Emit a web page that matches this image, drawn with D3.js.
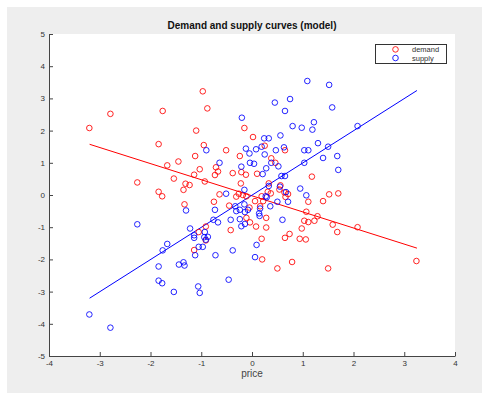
<!DOCTYPE html>
<html>
<head>
<meta charset="utf-8">
<script src="https://cdn.jsdelivr.net/npm/d3@7"></script>
<style>
  html, body { margin: 0; padding: 0; background: #ffffff; }
  svg { display: block; }
  text { font-family: "Liberation Sans", Arial, Helvetica, sans-serif; }
</style>
</head>
<body>
<svg id="chart" width="482" height="393"></svg>
<script>
// Demand observations: price vs quantity
const demandPrice = [-3.205,-2.79,-1.76,-0.97,-0.88,-1.10,-0.15,0.02,-1.84,-0.95,0.25,-0.51,0.65,-1.12,-0.24,-1.45,-1.67,0.38,0.46,-0.71,-1.03,-0.67,-0.38,-1.14,-0.73,-0.21,-0.12,0.10,-1.54,1.18,-2.26,-0.93,-0.22,-1.31,-1.23,0.33,0.56,-1.35,-1.84,-1.77,-0.64,-0.26,-0.18,-0.31,-0.11,0.19,0.31,0.37,0.54,0.64,0.71,0.66,1.52,1.70,1.40,1.11,-0.75,-1.33,0.06,0.22,-0.45,-0.05,0.16,1.07,-0.11,0.28,1.29,1.03,1.11,1.23,-0.04,-0.91,0.08,0.28,0.98,1.59,2.08,-0.42,-1.05,1.68,0.74,0.19,0.65,0.94,1.06,-0.91,-1.14,0.20,0.79,0.50,1.50,3.24];
const demandQty = [2.08,2.52,2.61,3.22,2.69,2.00,2.08,1.80,1.58,1.55,1.53,1.39,1.39,1.21,1.21,1.04,0.92,1.14,1.00,0.86,0.80,0.73,0.68,0.63,0.62,0.71,0.63,0.66,0.51,0.57,0.39,0.42,0.36,0.35,0.31,0.36,0.30,0.16,0.10,-0.04,0.02,0.04,0.00,-0.05,-0.04,-0.04,0.10,0.05,0.17,0.08,0.03,-0.06,0.02,0.05,-0.19,-0.21,-0.21,-0.29,-0.19,-0.19,-0.33,-0.39,-0.35,-0.52,-0.71,-0.71,-0.66,-0.80,-0.84,-0.80,-0.85,-0.98,-0.98,-1.01,-1.04,-0.92,-1.00,-1.09,-1.15,-1.15,-1.21,-1.36,-1.33,-1.36,-1.38,-1.41,-1.71,-2.00,-2.08,-2.28,-2.28,-2.05];

// Supply observations: price vs quantity
const supplyPrice = [-3.205,-2.79,1.09,1.52,0.75,0.45,0.65,1.58,-0.20,0.80,0.98,1.22,1.19,2.08,0.24,0.33,0.56,1.30,1.50,-0.12,0.08,0.19,0.47,0.63,-0.90,-0.05,0.25,1.03,1.11,1.68,1.40,-0.64,-0.04,0.04,0.38,1.03,-0.21,0.28,0.52,1.70,0.21,0.58,0.65,0.55,0.33,-0.15,0.95,1.07,-0.51,0.27,0.29,0.67,0.71,0.50,-1.30,-0.73,-0.33,-0.15,-0.08,-0.31,-0.24,-0.14,0.16,0.14,0.36,-0.76,-0.67,-0.42,-0.24,0.15,0.60,-0.14,-0.21,-1.22,-1.14,-1.14,-0.93,-0.94,-0.87,-0.91,-1.05,-0.97,-1.12,-1.67,-1.76,0.09,-0.38,-0.72,0.06,-1.84,-1.44,-1.35,-1.33,-1.84,-1.77,-1.54,-1.06,-1.03,-0.46,-2.26];
const supplyQty = [-3.71,-4.12,3.54,3.42,2.98,2.87,2.61,2.72,2.40,2.14,2.09,2.26,2.03,2.14,1.76,1.76,1.85,1.61,1.50,1.44,1.42,1.50,1.39,1.48,1.39,1.29,1.26,1.39,1.39,1.21,1.15,1.00,1.00,0.97,1.00,1.00,0.88,0.83,0.89,0.78,0.65,0.59,0.59,0.26,0.28,0.16,0.20,-0.01,0.04,-0.04,-0.07,0.09,-0.21,-0.21,-0.48,-0.46,-0.35,-0.29,-0.46,-0.50,-0.46,-0.53,-0.42,-0.57,-0.35,-0.77,-0.85,-0.77,-0.75,-0.65,-0.77,-0.90,-0.97,-1.04,-1.25,-1.33,-1.15,-1.31,-1.30,-1.39,-1.61,-1.61,-1.87,-1.52,-1.72,-1.55,-1.72,-1.87,-1.93,-2.22,-2.16,-2.09,-2.19,-2.66,-2.74,-3.01,-2.84,-3.04,-2.63,-0.91];

// Fitted linear models (slope, intercept) over the observed price range
const demandFit = { slope: -0.5, intercept: -0.025 };
const supplyFit = { slope: 1.0, intercept: -0.005 };
const fitRange = [-3.2, 3.25];

const xTicks = [-4, -3, -2, -1, 0, 1, 2, 3, 4];
const yTicks = [-5, -4, -3, -2, -1, 0, 1, 2, 3, 4, 5];
const seriesNames = ["demand", "supply"];
const seriesColors = ["#ff0000", "#0000ff"];

const svg = d3.select("#chart");

// figure background
svg.append("rect")
  .attr("x", 7).attr("y", 7)
  .attr("width", 475).attr("height", 386)
  .attr("fill", "#eeeeee");

const plotLeft = 49, plotRight = 455, plotTop = 34, plotBottom = 356;

const x = d3.scaleLinear().domain([-4, 4]).range([plotLeft, plotRight]);
const y = d3.scaleLinear().domain([-5, 5]).range([plotBottom, plotTop]);

// plot area
svg.append("rect")
  .attr("x", plotLeft).attr("y", plotTop)
  .attr("width", plotRight - plotLeft).attr("height", plotBottom - plotTop)
  .attr("fill", "#ffffff");

// axes with inward ticks
const xAxis = d3.axisBottom(x).tickValues(xTicks)
  .tickSizeInner(-4).tickSizeOuter(0).tickPadding(4);
const yAxis = d3.axisLeft(y).tickValues(yTicks)
  .tickSizeInner(-4).tickSizeOuter(0).tickPadding(4);

const gx = svg.append("g").attr("transform", `translate(0,${plotBottom})`).call(xAxis);
const gy = svg.append("g").attr("transform", `translate(${plotLeft},0)`).call(yAxis);

[gx, gy].forEach(g => {
  g.select(".domain").attr("stroke", "#444").attr("stroke-width", 1);
  g.selectAll(".tick line").attr("stroke", "#444");
  g.selectAll(".tick text")
    .attr("fill", "#333")
    .style("font-size", "8px")
    .style("font-family", "'Liberation Sans', Arial, sans-serif")
    .text(d => d < 0 ? "-" + Math.abs(d) : String(d));
});

// fitted lines
const lineGen = d3.line().x(d => x(d[0])).y(d => y(d[1]));
[[demandFit, seriesColors[0]], [supplyFit, seriesColors[1]]].forEach(([fit, color]) => {
  const pts = fitRange.map(p => [p, fit.slope * p + fit.intercept]);
  svg.append("path")
    .attr("d", lineGen(pts))
    .attr("fill", "none")
    .attr("stroke", color)
    .attr("stroke-width", 1);
});

// scatter markers
function drawSeries(px, qy, color) {
  svg.append("g").selectAll("circle")
    .data(px.map((p, i) => [p, qy[i]]))
    .join("circle")
    .attr("cx", d => x(d[0]))
    .attr("cy", d => y(d[1]))
    .attr("r", 2.8)
    .attr("fill", "none")
    .attr("stroke", color)
    .attr("stroke-opacity", 0.85)
    .attr("stroke-width", 1);
}
drawSeries(demandPrice, demandQty, seriesColors[0]);
drawSeries(supplyPrice, supplyQty, seriesColors[1]);

// title
svg.append("text")
  .attr("x", (plotLeft + plotRight) / 2).attr("y", 29)
  .attr("text-anchor", "middle")
  .attr("fill", "#111")
  .style("font-size", "10px")
  .style("font-weight", "bold")
  .text("Demand and supply curves (model)");

// x label
svg.append("text")
  .attr("x", (plotLeft + plotRight) / 2).attr("y", 377)
  .attr("text-anchor", "middle")
  .attr("fill", "#444")
  .style("font-size", "10px")
  .text("price");

// legend
const lg = svg.append("g");
lg.append("rect")
  .attr("x", 375.5).attr("y", 44.5)
  .attr("width", 71).attr("height", 19)
  .attr("fill", "#ffffff")
  .attr("stroke", "#333")
  .attr("stroke-width", 1);
seriesNames.forEach((name, i) => {
  const cy = 49.4 + i * 8.6;
  lg.append("circle")
    .attr("cx", 395.5).attr("cy", cy).attr("r", 2.8)
    .attr("fill", "none")
    .attr("stroke", seriesColors[i])
    .attr("stroke-opacity", 0.85)
    .attr("stroke-width", 1);
  lg.append("text")
    .attr("x", 412).attr("y", cy + 2.7)
    .attr("fill", "#333")
    .style("font-size", "7.5px")
    .text(name);
});
</script>
</body>
</html>
